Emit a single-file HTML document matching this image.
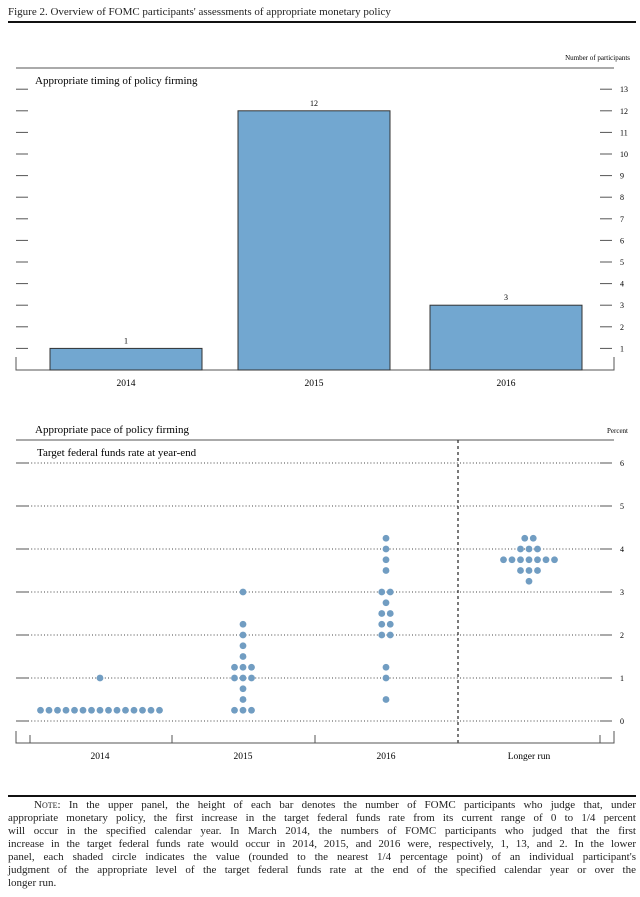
<!DOCTYPE html>
<html><head><meta charset="utf-8">
<style>
html,body{margin:0;padding:0;background:#fff;}
body{width:640px;height:897px;overflow:hidden;position:relative;font-family:"Liberation Serif",serif;color:#222;}
svg{position:absolute;left:0;top:0;}
.note{position:absolute;left:8px;top:799px;width:628px;font-size:11px;line-height:13px;color:#222;}
.note div{text-align:justify;text-align-last:justify;white-space:nowrap;}
.note div.last{text-align-last:left;}
</style></head>
<body>
<svg width="640" height="897" id="fig">
<text x="8" y="15" font-size="11" fill="#222">Figure 2. Overview of FOMC participants' assessments of appropriate monetary policy</text>
<line x1="8" y1="22" x2="636" y2="22" stroke="#111" stroke-width="2"/>
<text x="630" y="60" font-size="7" text-anchor="end">Number of participants</text>
<line x1="16" y1="68" x2="614" y2="68" stroke="#555"/>
<text x="35" y="84" font-size="11">Appropriate timing of policy firming</text>
<g id="bars"></g>
<text x="35" y="433" font-size="11">Appropriate pace of policy firming</text>
<text x="628" y="433" font-size="7" text-anchor="end">Percent</text>
<line x1="16" y1="440" x2="614" y2="440" stroke="#555"/>
<text x="37" y="456" font-size="11">Target federal funds rate at year-end</text>
<g id="dots"></g>
<line x1="8" y1="796" x2="636" y2="796" stroke="#111" stroke-width="2"/>
</svg>
<div class="note">
<div style="padding-left:26px"><span style="font-variant:small-caps">Note:</span> In the upper panel, the height of each bar denotes the number of FOMC participants who judge that, under</div>
<div>appropriate monetary policy, the first increase in the target federal funds rate from its current range of 0 to 1/4 percent</div>
<div>will occur in the specified calendar year. In March 2014, the numbers of FOMC participants who judged that the first</div>
<div>increase in the target federal funds rate would occur in 2014, 2015, and 2016 were, respectively, 1, 13, and 2. In the lower</div>
<div>panel, each shaded circle indicates the value (rounded to the nearest 1/4 percentage point) of an individual participant's</div>
<div>judgment of the appropriate level of the target federal funds rate at the end of the specified calendar year or over the</div>
<div class="last">longer run.</div>
</div>
<script>
const barCategories = ["2014","2015","2016"];
const barValues = [1,12,3];
const barTicks = [1,2,3,4,5,6,7,8,9,10,11,12,13];
const dotCategories = ["2014","2015","2016","Longer run"];
const dots2014 = [0.25,0.25,0.25,0.25,0.25,0.25,0.25,0.25,0.25,0.25,0.25,0.25,0.25,0.25,0.25,1];
const dots2015 = [0.25,0.25,0.25,0.5,0.75,1,1,1,1.25,1.25,1.25,1.5,1.75,2,2.25,3];
const dots2016 = [0.5,1,1.25,2,2,2.25,2.25,2.5,2.5,2.75,3,3,3.5,3.75,4,4.25];
const dotsLong = [3.25,3.5,3.5,3.5,3.75,3.75,3.75,3.75,3.75,3.75,3.75,4,4,4,4.25,4.25];
const dotTicks = [0,1,2,3,4,5,6];

const NS="http://www.w3.org/2000/svg";
function mk(tag,attrs,parent){const e=document.createElementNS(NS,tag);for(const k in attrs)e.setAttribute(k,attrs[k]);parent.appendChild(e);return e;}
const byScale=v=>370-v*21.6;
const barX=i=>[50,238,430][i];
const barW=152;
const gB=document.getElementById('bars');
barTicks.forEach(t=>{
  const y=byScale(t);
  let l=mk('line',{x1:16,x2:28,y1:y,y2:y,stroke:'#555'},gB);
  
  
  l=mk('line',{x1:600,x2:612,y1:y,y2:y,stroke:'#555'},gB);
  
  
  const tx=mk('text',{x:620,y:y+3,'font-size':8},gB);tx.textContent=t;
  
  
});
let ax=mk('path',{d:'M16,357 V370 H614 V357',fill:'none',stroke:'#555'},gB);


barValues.forEach((v,i)=>{
  const x=barX(i),y=byScale(v);
  const r=mk('rect',{x:x,y:y,width:barW,height:370-y,fill:'#72a7d0',stroke:'#333','stroke-width':1},gB);
  
  
  const vt=mk('text',{x:x+barW/2,y:y-5,'font-size':8,'text-anchor':'middle'},gB);vt.textContent=v;
  
  
  const ct=mk('text',{x:x+barW/2,y:386,'font-size':9.5,'text-anchor':'middle'},gB);ct.textContent=barCategories[i];
  
  
});
const dyScale=v=>721-v*43;
const dotCenters=[100,243,386,529];
const gD=document.getElementById('dots');
dotTicks.forEach(t=>{
  const y=dyScale(t);
  let l=mk('line',{x1:28,x2:600,y1:y,y2:y,stroke:'#444','stroke-dasharray':'1,2.2'},gD);
  
  
  l=mk('line',{x1:16,x2:28,y1:y,y2:y,stroke:'#555'},gD);
  
  
  l=mk('line',{x1:600,x2:612,y1:y,y2:y,stroke:'#555'},gD);
  
  
  const tx=mk('text',{x:620,y:y+3,'font-size':8},gD);tx.textContent=t;
  
  
});
let dv=mk('line',{x1:458,x2:458,y1:440,y2:746,stroke:'#333','stroke-width':1.3,'stroke-dasharray':'3,3'},gD);


ax=mk('path',{d:'M16,731 V743 H614 V731 M30,735 V743 M172,735 V743 M315,735 V743 M600,735 V743',fill:'none',stroke:'#555'},gD);


[dots2014,dots2015,dots2016,dotsLong].forEach((arr,ci)=>{
  const counts={};arr.forEach(v=>counts[v]=(counts[v]||0)+1);
  Object.keys(counts).forEach(k=>{
    const n=counts[k],v=parseFloat(k);
    for(let j=0;j<n;j++){
      const cx=dotCenters[ci]+(j-(n-1)/2)*8.5;
      const c=mk('circle',{cx:cx,cy:dyScale(v),r:3.4,fill:'#719dc2'},gD);
      
      
    }
  });
  const ct=mk('text',{x:dotCenters[ci],y:759,'font-size':9.5,'text-anchor':'middle'},gD);ct.textContent=dotCategories[ci];
  
  
});
</script>
</body></html>
